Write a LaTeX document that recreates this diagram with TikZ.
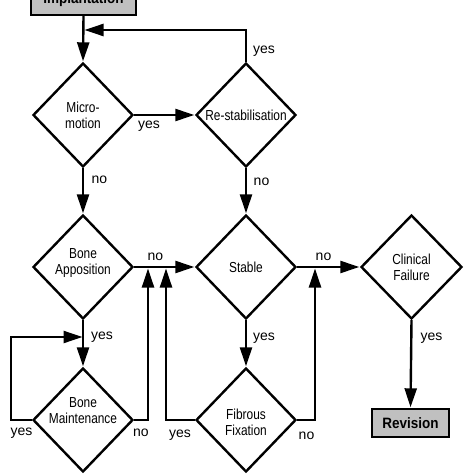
\documentclass[tikz,border=0pt]{standalone}
\usepackage{fontspec}
\setmainfont{Liberation Sans}
\newfontfamily\narfont[FakeStretch=0.82]{Liberation Sans}
\newfontfamily\boxfont[FakeStretch=0.9]{Liberation Sans}
\usetikzlibrary{shapes.geometric,arrows.meta}
\definecolor{boxgray}{RGB}{192,192,192}
\tikzset{
  dia/.style={diamond, draw=black, line width=2.4pt, inner sep=0pt,
    minimum width=100pt, minimum height=104pt},
  dtext/.style={font=\narfont\fontsize{14.5}{16}\selectfont, align=center, inner sep=0pt},
  endbox/.style={rectangle, draw=black, line width=2.4pt, fill=boxgray,
    font=\boxfont\bfseries\fontsize{15}{17}\selectfont, inner sep=0pt},
  arr/.style={line width=2.4pt, -{Triangle[length=19pt,width=12pt]}, shorten >=0.5pt},
  lbl/.style={font=\fontsize{14}{16}\selectfont, anchor=base, inner sep=0pt},
}
\begin{document}
\begin{tikzpicture}[x=1pt,y=-1pt]
\useasboundingbox (0,0) rectangle (474,474);
\fill[white] (0,0) rectangle (474,474);
% nodes
\node[endbox, minimum width=105pt, minimum height=30pt] (impl) at (83.5,0) {Implantation};
\node[dia, label={[dtext]center:Micro-\\motion}] (mm) at (83,115) {};
\node[dia, label={[dtext]center:Re-stabilisation}] (rs) at (246,115) {};
\node[dia, label={[dtext,yshift=4pt]center:Bone\\Apposition}] (ba) at (83,267) {};
\node[dia, label={[dtext]center:Stable}] (st) at (246,267) {};
\node[dia, minimum width=101pt, label={[dtext]center:Clinical\\Failure}] (cf) at (411.5,267) {};
\node[dia, label={[dtext,yshift=9pt]center:Bone\\Maintenance}] (bm) at (83,420) {};
\node[dia, label={[dtext,yshift=-2pt]center:Fibrous\\Fixation}] (ff) at (246,420) {};
\node[endbox, minimum width=77pt, minimum height=28pt] (rev) at (410.5,423) {Revision};
% junction coordinates
\coordinate (j1) at (84,30);
\coordinate (j2) at (83,337);
\coordinate (j3) at (148,268);
\coordinate (j4) at (166,268);
\coordinate (j5) at (315,268);
% connectors
\draw[arr] (impl.south) -- (mm.north);
\draw[arr] (rs.north) |- (j1);
\draw[arr] (mm.east) -- (rs.west);
\draw[arr] (mm.south) -- (ba.north);
\draw[arr] (rs.south) -- (st.north);
\draw[arr] (ba.east) -- (st.west);
\draw[arr] (st.east) -- (cf.west);
\draw[arr] (ba.south) -- (bm.north);
\draw[arr] (st.south) -- (ff.north);
\draw[arr] (cf.south) -- (rev.north);
\draw[arr] (bm.west) -- (11,420) |- (j2);
\draw[arr] (bm.east) -| (j3);
\draw[arr] (ff.west) -| (j4);
\draw[arr] (ff.east) -| (j5);
% labels
\node[lbl] (l1) at (264,53) {yes};
\node[lbl] (l2) at (149,128) {yes};
\node[lbl] (l3) at (99.5,183) {no};
\node[lbl] (l4) at (261.5,185) {no};
\node[lbl] (l5) at (155.5,260) {no};
\node[lbl] (l6) at (323.5,260) {no};
\node[lbl] (l7) at (102,339) {yes};
\node[lbl] (l8) at (264,340) {yes};
\node[lbl] (l9) at (431.5,340) {yes};
\node[lbl] (l10) at (21.5,435) {yes};
\node[lbl] (l11) at (141,436) {no};
\node[lbl] (l12) at (180,437) {yes};
\node[lbl] (l13) at (306.5,439) {no};
\end{tikzpicture}
\end{document}
